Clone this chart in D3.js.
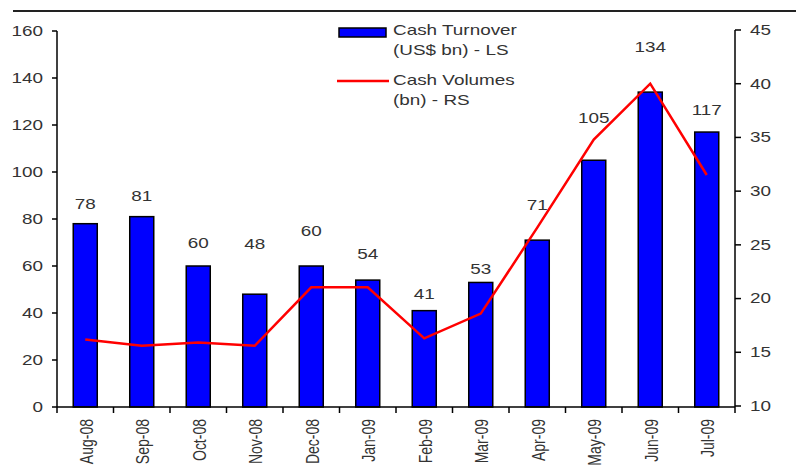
<!DOCTYPE html>
<html>
<head>
<meta charset="utf-8">
<script src="https://cdn.jsdelivr.net/npm/d3@7"></script>
<style>
	body { margin: 0; background: #fff; }
	text { font-family: "Liberation Sans", Arial, sans-serif; fill: #333; }
</style>
</head>
<body>
<svg id="chart" width="796" height="472"></svg>
<script>
const months = ['Aug-08', 'Sep-08', 'Oct-08', 'Nov-08', 'Dec-08', 'Jan-09', 'Feb-09', 'Mar-09', 'Apr-09', 'May-09', 'Jun-09', 'Jul-09'];
const cashTurnover = [78, 81, 60, 48, 60, 54, 41, 53, 71, 105, 134, 117];
const cashVolumes = [16.2, 15.6, 15.9, 15.6, 21.05, 21.05, 16.3, 18.6, 26.6, 34.8, 40.0, 31.5];
const leftTicks = [0, 20, 40, 60, 80, 100, 120, 140, 160];
const rightTicks = [10, 15, 20, 25, 30, 35, 40, 45];

// label lift above each bar top (px), hand placed like the original
const labelLift = [20, 21, 23, 50, 35, 26, 17, 13, 35, 42, 45, 22];

const SX = 1.35; // the source picture is stretched sideways
const svg = d3.select('#chart');

const x = d3.scaleBand().domain(months).range([57, 735]).paddingInner(0.575).paddingOuter(0.2875);
const yL = d3.scaleLinear().domain([0, 160]).range([407, 31]);
const yR = d3.scaleLinear().domain([10, 45]).range([406, 30]);

function label(g, tx, ty, str, anchor, rot) {
	g.append('text')
		.attr('transform', `translate(${tx},${ty}) scale(${SX},1)` + (rot ? ` rotate(${rot})` : ''))
		.attr('text-anchor', anchor)
		.attr('dy', '0.35em')
		.style('font-size', '14px')
		.text(str);
}

// rule under the (cut off) title
svg.append('line')
	.attr('x1', 13).attr('x2', 796).attr('y1', 11).attr('y2', 11)
	.attr('stroke', '#222').attr('stroke-width', 2);

// bars
svg.selectAll('.bar')
	.data(months)
	.join('rect')
	.attr('class', 'bar')
	.attr('x', (d) => x(d))
	.attr('width', x.bandwidth())
	.attr('y', (d, i) => yL(cashTurnover[i]))
	.attr('height', (d, i) => yL(0) - yL(cashTurnover[i]))
	.attr('fill', '#0000ff')
	.attr('stroke', '#000')
	.attr('stroke-width', 1.5);

// line
const line = d3.line()
	.x((d, i) => x(months[i]) + x.bandwidth() / 2)
	.y((d) => yR(d));
svg.append('path')
	.attr('d', line(cashVolumes))
	.attr('fill', 'none')
	.attr('stroke', '#ff0000')
	.attr('stroke-width', 2.5);

// axes
const ax = svg.append('g').attr('stroke', '#000').attr('stroke-width', 1.5);
ax.append('line').attr('x1', 57).attr('x2', 57).attr('y1', yL(160)).attr('y2', yL(0));
ax.append('line').attr('x1', 735).attr('x2', 735).attr('y1', yR(45)).attr('y2', yL(0));
ax.append('line').attr('x1', 57).attr('x2', 735).attr('y1', yL(0)).attr('y2', yL(0));
ax.selectAll('.lt').data(leftTicks).join('line').attr('class', 'lt')
	.attr('x1', 52).attr('x2', 57).attr('y1', (d) => yL(d)).attr('y2', (d) => yL(d));
ax.selectAll('.rt').data(rightTicks).join('line').attr('class', 'rt')
	.attr('x1', 735).attr('x2', 741).attr('y1', (d) => yR(d)).attr('y2', (d) => yR(d));
ax.selectAll('.xt').data(d3.range(months.length + 1)).join('line').attr('class', 'xt')
	.attr('x1', (k) => 57 + k * x.step()).attr('x2', (k) => 57 + k * x.step())
	.attr('y1', yL(0)).attr('y2', yL(0) + 6);

const txt = svg.append('g');
leftTicks.forEach((d) => label(txt, 43, yL(d), d, 'end'));
rightTicks.forEach((d) => label(txt, 750, yR(d), d, 'start'));
months.forEach((m) => label(txt, x(m) + x.bandwidth() / 2 + 1, 419, m, 'end', -90));
months.forEach((m, i) => label(txt, x(m) + x.bandwidth() / 2, yL(cashTurnover[i]) - labelLift[i], cashTurnover[i], 'middle'));

// legend
const lg = svg.append('g');
lg.append('rect').attr('x', 339).attr('y', 28).attr('width', 47).attr('height', 9)
	.attr('fill', '#0000ff').attr('stroke', '#000').attr('stroke-width', 1.5);
lg.append('line').attr('x1', 337).attr('x2', 389).attr('y1', 81).attr('y2', 81)
	.attr('stroke', '#ff0000').attr('stroke-width', 2.5);
label(lg, 393, 30, 'Cash Turnover', 'start');
label(lg, 393, 50, '(US$ bn) - LS', 'start');
label(lg, 393, 80, 'Cash Volumes', 'start');
label(lg, 393, 100, '(bn) - RS', 'start');
</script>
</body>
</html>
